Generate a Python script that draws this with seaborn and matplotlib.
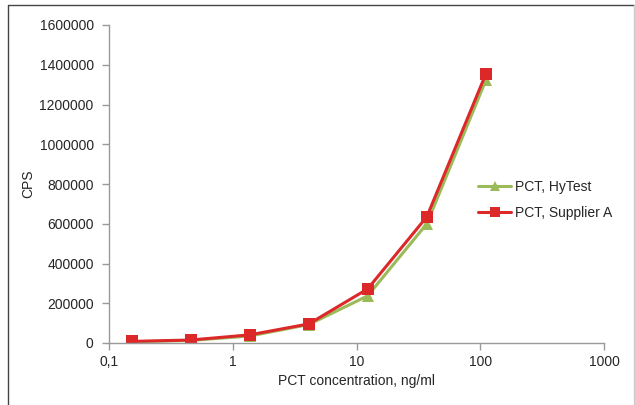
import matplotlib
matplotlib.use("Agg")
import matplotlib.pyplot as plt
import seaborn as sns
import pandas as pd
from matplotlib.lines import Line2D
from matplotlib.ticker import FixedLocator, FixedFormatter, NullLocator

# Data
concentration = [0.152, 0.457, 1.37, 4.12, 12.3, 37.0, 111.0]
hytest_cps = [6000, 13000, 35000, 93000, 237000, 600000, 1322000]
supplier_a_cps = [8000, 15000, 41000, 96000, 272000, 635000, 1354000]
series_names = ["PCT, HyTest", "PCT, Supplier A"]
x_ticks = [0.1, 1, 10, 100, 1000]
x_tick_labels = ["0,1", "1", "10", "100", "1000"]
y_ticks = [0, 200000, 400000, 600000, 800000, 1000000, 1200000, 1400000, 1600000]

df = pd.DataFrame({
    "conc": concentration * 2,
    "cps": hytest_cps + supplier_a_cps,
    "series": [series_names[0]] * len(concentration) + [series_names[1]] * len(concentration),
})

sns.set_style("white")
plt.rcParams["font.family"] = ["Liberation Sans", "DejaVu Sans"]

fig = plt.figure(figsize=(6.35, 4.05), dpi=100)
ax = fig.add_axes([109 / 635, 62 / 405, 495 / 635, 318 / 405])

palette = {series_names[0]: "#9BBB59", series_names[1]: "#DC2828"}
sns.lineplot(data=df, x="conc", y="cps", hue="series", style="series",
             markers={series_names[0]: "^", series_names[1]: "s"},
             dashes=False, palette=palette, linewidth=2.2, markersize=8.5,
             markeredgewidth=0, ax=ax)

ax.set_xscale("log")
ax.set_xlim(0.1, 1000)
ax.set_ylim(0, 1600000)
ax.xaxis.set_major_locator(FixedLocator(x_ticks))
ax.xaxis.set_major_formatter(FixedFormatter(x_tick_labels))
ax.xaxis.set_minor_locator(NullLocator())
ax.set_yticks(y_ticks)
ax.set_yticklabels([str(v) for v in y_ticks])

for s in ["top", "right"]:
    ax.spines[s].set_visible(False)
for s in ["left", "bottom"]:
    ax.spines[s].set_color("#999999")
    ax.spines[s].set_linewidth(1.0)
ax.tick_params(axis="both", which="major", direction="out", length=5, width=1,
               color="#999999", labelsize=10, labelcolor="#262626",
               bottom=True, left=True)
ax.tick_params(axis="y", pad=6)
ax.tick_params(axis="x", pad=4)

ax.set_xlabel("PCT concentration, ng/ml", fontsize=10, color="#262626", labelpad=3)
ax.set_ylabel("CPS", fontsize=10, color="#262626", labelpad=3)

leg = ax.legend(loc="center left", bbox_to_anchor=(0.72, 0.45), frameon=False,
                fontsize=10, handlelength=2.4, handletextpad=0.3, labelspacing=0.85,
                markerscale=0.8, title=None)
for t in leg.get_texts():
    t.set_color("#262626")

# figure border
fig.add_artist(Line2D([8 / 635, 8 / 635], [0, 1 - 5 / 405], color="#444444", lw=1.0))
fig.add_artist(Line2D([8 / 635, 634 / 635], [1 - 5 / 405, 1 - 5 / 405], color="#444444", lw=1.0))
fig.add_artist(Line2D([634 / 635, 634 / 635], [0, 1 - 5 / 405], color="#cccccc", lw=1.0))

fig.savefig("out.png", dpi=100)
